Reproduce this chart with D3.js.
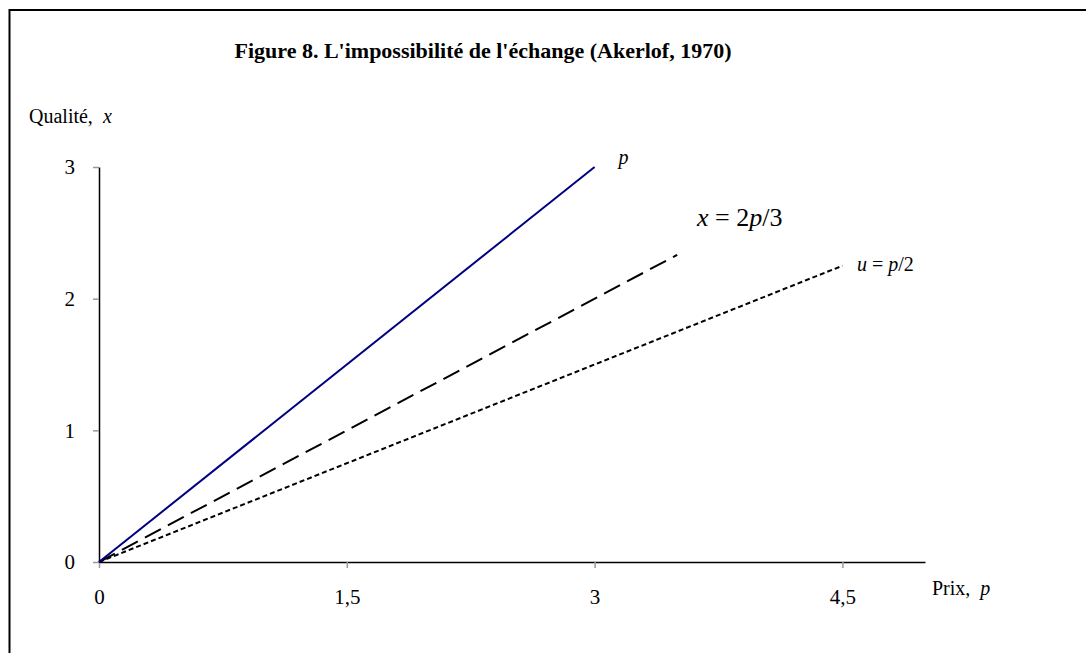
<!DOCTYPE html>
<head>
    <meta charset="utf-8">
    <title>Akerlof 1970</title>
    <script src="https://d3js.org/d3.v7.min.js"></script>
    <style>
        body { margin: 0; background: #fff; }
        text { font-family: "Liberation Serif", "Times New Roman", serif; fill: #000; }
        .axis .domain { stroke: #000; stroke-width: 1.5; }
        .axis .tick line { stroke: #999; stroke-width: 1.5; }
    </style>
</head>
<body>
<div id="container"></div>
<script>
    //---------------------------DATA------------------------------//
    const xTicks = [0, 1.5, 3, 4.5];
    const yTicks = [0, 1, 2, 3];
    const lineP = [[0, 0], [3, 3]];                // x = p
    const lineX = [[0, 0], [3.5, 2.333]];          // x = 2p/3
    const lineU = [[0, 0], [4.5, 2.25]];           // u = p/2

    //---------------------------SVG-------------------------------//
    const width = 1086, height = 653;
    const svg = d3.select("#container").append("svg")
        .attr("width", width)
        .attr("height", height);

    // outer frame (runs off the right and bottom edge)
    svg.append("rect")
        .attr("x", 9.5).attr("y", 10)
        .attr("width", 1200).attr("height", 800)
        .attr("fill", "none")
        .attr("stroke", "#000")
        .attr("stroke-width", 2);

    //--------------------------SCALES-----------------------------//
    const xScale = d3.scaleLinear().domain([0, 5]).range([99, 925]);
    const yScale = d3.scaleLinear().domain([0, 3]).range([562, 167]);
    const fmt = d => String(d).replace(".", ",");

    //---------------------------AXES------------------------------//
    const gx = svg.append("g")
        .attr("class", "axis")
        .attr("transform", "translate(0," + yScale(0) + ")")
        .call(d3.axisBottom(xScale).tickValues(xTicks).tickFormat(fmt)
            .tickSize(6).tickSizeOuter(0).tickPadding(21));

    const gy = svg.append("g")
        .attr("class", "axis")
        .attr("transform", "translate(" + xScale(0) + ",0)")
        .call(d3.axisLeft(yScale).tickValues(yTicks).tickFormat(fmt)
            .tickSize(6).tickSizeOuter(0).tickPadding(18));

    svg.selectAll(".axis text")
        .style("font-family", "'Liberation Serif', serif")
        .style("font-size", "21px");

    //---------------------------LINES-----------------------------//
    const line = d3.line()
        .x(d => xScale(d[0]))
        .y(d => yScale(d[1]));

    svg.append("path")
        .attr("d", line(lineU))
        .attr("fill", "none")
        .attr("stroke", "#000")
        .attr("stroke-width", 2)
        .attr("stroke-dasharray", "5,3");

    svg.append("path")
        .attr("d", line(lineX))
        .attr("fill", "none")
        .attr("stroke", "#000")
        .attr("stroke-width", 2)
        .attr("stroke-dasharray", "18,8");

    svg.append("path")
        .attr("d", line(lineP))
        .attr("fill", "none")
        .attr("stroke", "#000080")
        .attr("stroke-width", 2);

    //---------------------------TEXT------------------------------//
    svg.append("text")
        .attr("x", 483).attr("y", 58)
        .attr("text-anchor", "middle")
        .style("font-size", "22px")
        .style("font-weight", "bold")
        .text("Figure 8. L'impossibilité de l'échange (Akerlof, 1970)");

    const yl = svg.append("text").attr("x", 29).attr("y", 123)
        .attr("xml:space", "preserve").style("white-space", "pre").style("font-size", "20px");
    yl.append("tspan").text("Qualité,  ");
    yl.append("tspan").style("font-style", "italic").text("x");

    const xl = svg.append("text").attr("x", 932).attr("y", 595)
        .attr("xml:space", "preserve").style("white-space", "pre").style("font-size", "20px");
    xl.append("tspan").text("Prix,  ");
    xl.append("tspan").style("font-style", "italic").text("p");

    svg.append("text")
        .attr("x", xScale(lineP[1][0]) + 24).attr("y", yScale(lineP[1][1]) - 3)
        .style("font-size", "20px").style("font-style", "italic")
        .text("p");

    const lx = svg.append("text")
        .attr("x", 697).attr("y", 226).style("font-size", "26px");
    lx.append("tspan").style("font-style", "italic").text("x");
    lx.append("tspan").text(" = 2");
    lx.append("tspan").style("font-style", "italic").text("p");
    lx.append("tspan").text("/3");

    const lu = svg.append("text")
        .attr("x", 857).attr("y", 271).style("font-size", "20px");
    lu.append("tspan").style("font-style", "italic").text("u");
    lu.append("tspan").text(" = ");
    lu.append("tspan").style("font-style", "italic").text("p");
    lu.append("tspan").text("/2");
</script>
</body>
